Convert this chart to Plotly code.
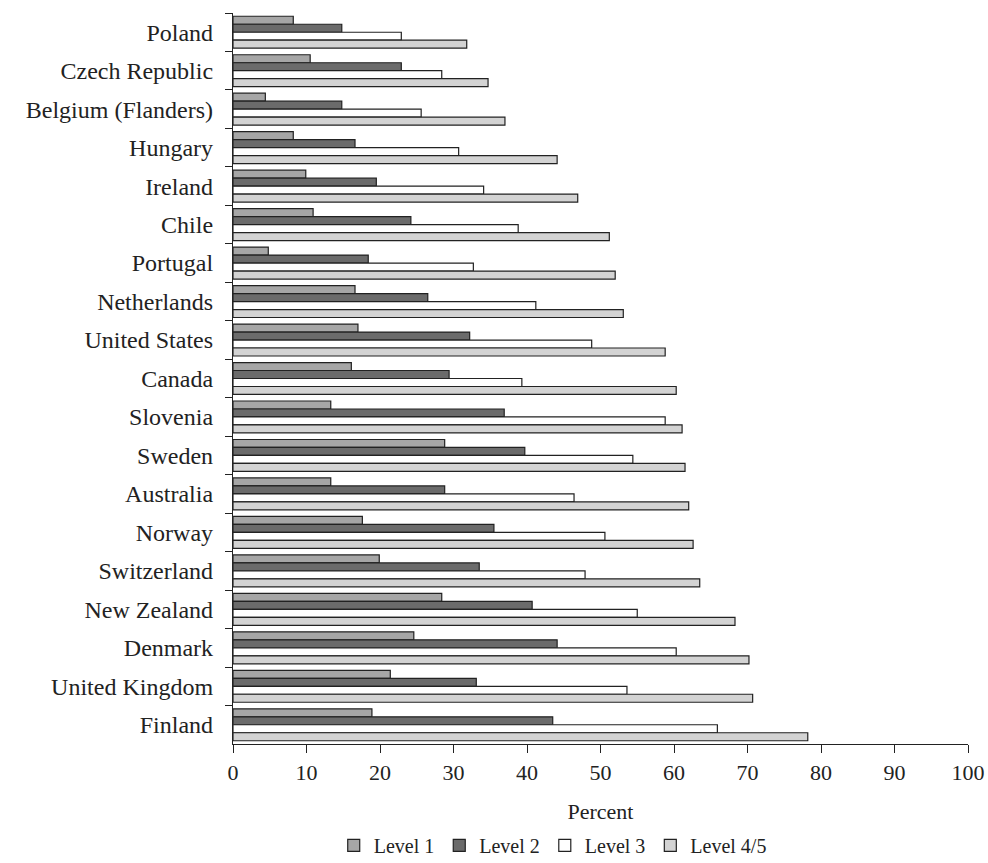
import plotly.graph_objects as go

countries = ["Poland", "Czech Republic", "Belgium (Flanders)", "Hungary", "Ireland", "Chile",
             "Portugal", "Netherlands", "United States", "Canada", "Slovenia", "Sweden",
             "Australia", "Norway", "Switzerland", "New Zealand", "Denmark", "United Kingdom", "Finland"]

level1 = [8.2, 10.5, 4.4, 8.2, 9.9, 10.9, 4.8, 16.6, 17.0, 16.1, 13.3, 28.8, 13.3, 17.6, 19.9, 28.4, 24.6, 21.4, 18.9]
level2 = [14.8, 22.9, 14.8, 16.6, 19.5, 24.2, 18.4, 26.5, 32.2, 29.4, 36.9, 39.7, 28.8, 35.5, 33.5, 40.7, 44.1, 33.1, 43.5]
level3 = [22.9, 28.4, 25.6, 30.7, 34.1, 38.8, 32.7, 41.2, 48.8, 39.3, 58.8, 54.4, 46.4, 50.6, 47.9, 55.0, 60.3, 53.6, 65.9]
level45 = [31.8, 34.7, 37.0, 44.1, 46.9, 51.2, 52.0, 53.1, 58.8, 60.3, 61.1, 61.5, 62.0, 62.6, 63.5, 68.3, 70.2, 70.7, 78.2]

series = [("Level 1", level1, "#a6a6a6"),
          ("Level 2", level2, "#6b6b6b"),
          ("Level 3", level3, "#ffffff"),
          ("Level 4/5", level45, "#d3d3d3")]

fig = go.Figure()
for name, vals, color in series:
    fig.add_trace(go.Bar(
        y=countries, x=vals, name=name, orientation="h",
        marker=dict(color=color, line=dict(color="#222222", width=1.2)),
    ))

font_family = "Liberation Serif, Times New Roman, serif"
fig.update_layout(
    width=988, height=863,
    barmode="group", bargap=0.17, bargroupgap=0,
    plot_bgcolor="white", paper_bgcolor="white",
    margin=dict(l=233, r=20, t=13, b=119, autoexpand=False),
    font=dict(family=font_family, size=22, color="#222222"),
    showlegend=True,
    legend=dict(orientation="h", x=0.435, xanchor="center", y=-0.112, yanchor="top",
                font=dict(size=20), itemwidth=30, traceorder="normal"),
    xaxis=dict(range=[0, 100], dtick=10, showgrid=False, zeroline=False,
               showline=True, linecolor="#222222", linewidth=1.2,
               ticks="outside", ticklen=8, tickcolor="#222222", tickwidth=1.2,
               title=dict(text="Percent", font=dict(size=22), standoff=20),
               tickfont=dict(size=22), automargin=False),
    yaxis=dict(autorange="reversed", showgrid=False, zeroline=False,
               showline=True, linecolor="#222222", linewidth=1.2,
               ticks="outside", ticklen=7, tickcolor="#222222", tickwidth=1.2,
               tickson="boundaries", tickfont=dict(size=24), automargin=False,
               ticklabelstandoff=14),
)

fig.write_html("out.html", config={"displayModeBar": False},
               post_script="document.body.style.margin='0';document.body.style.overflow='hidden';")
